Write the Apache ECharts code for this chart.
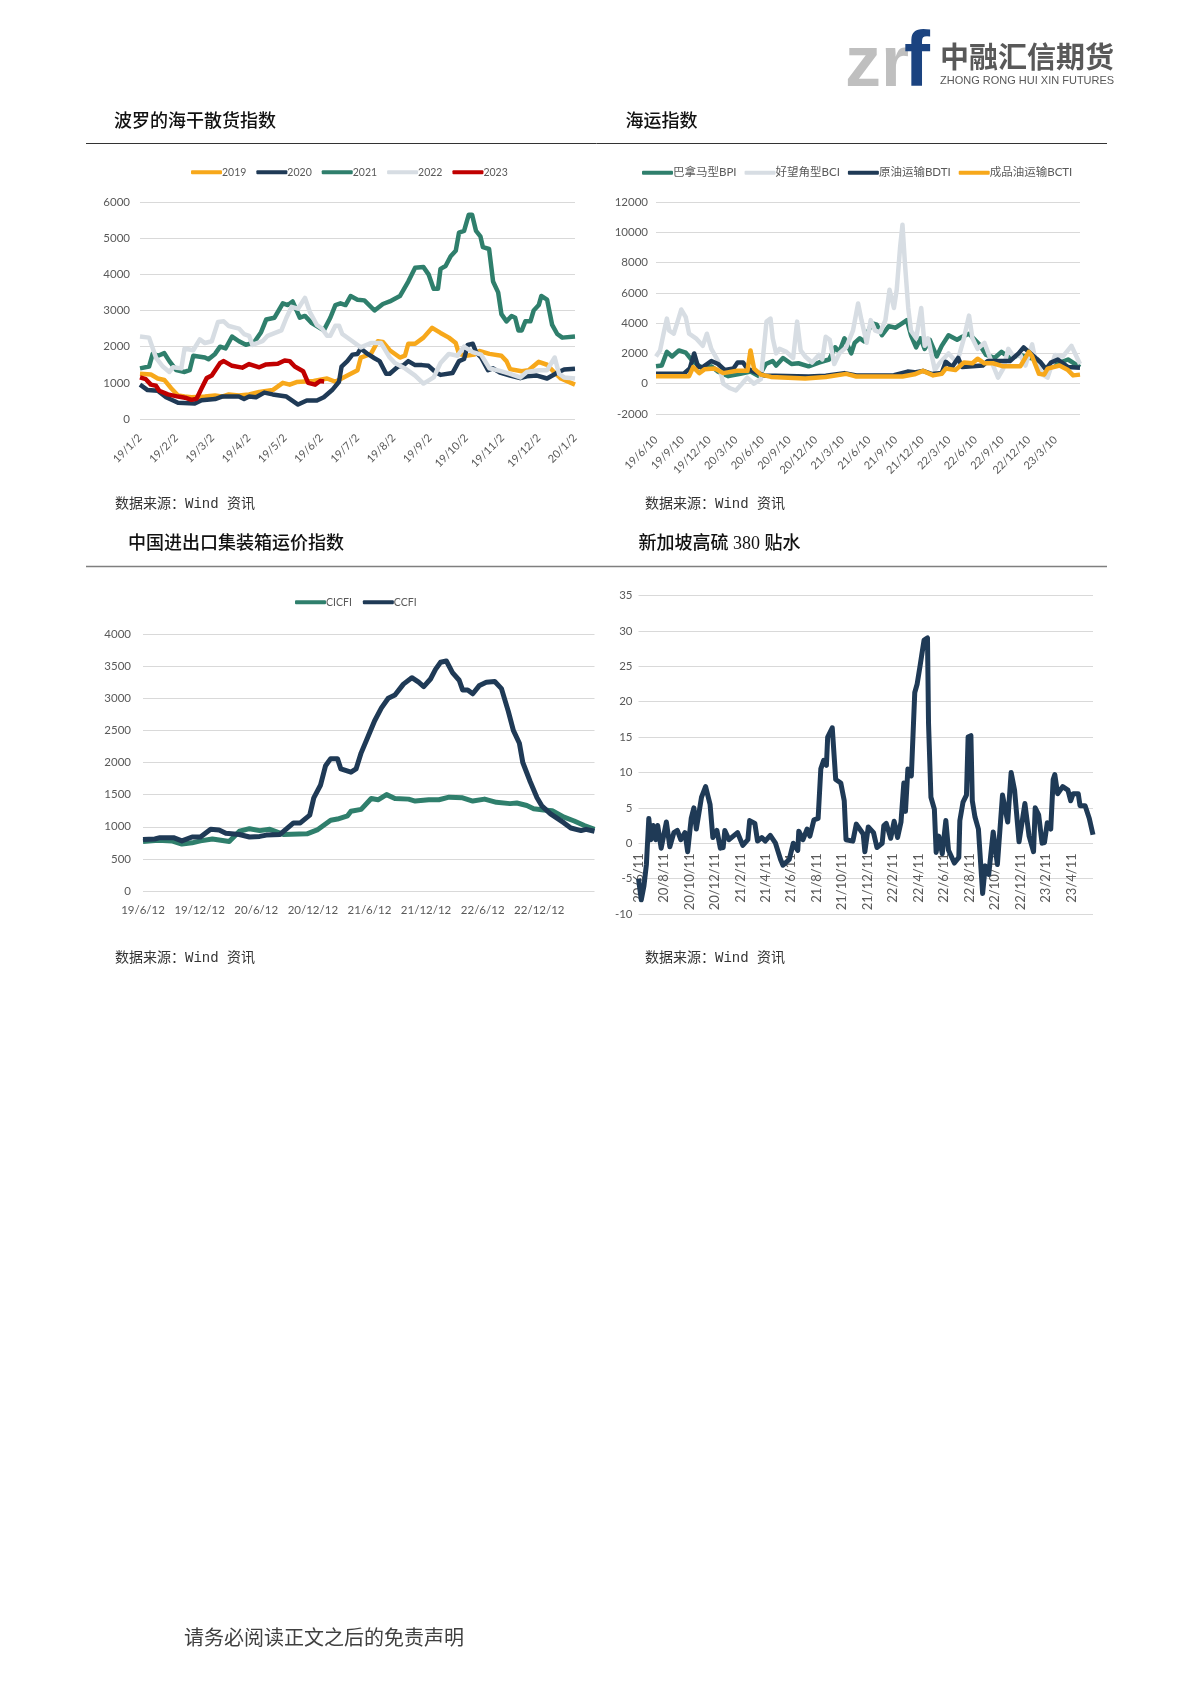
<!DOCTYPE html>
<html><head><meta charset="utf-8">
<style>html,body{margin:0;padding:0;background:#fff}#c{width:1190px;height:1683px}</style>
<script src="https://cdn.jsdelivr.net/npm/echarts@6/dist/echarts.min.js"></script>
</head><body><div id="c"></div>
<script>
// x = months elapsed since the first tick label of each chart
const bdiTicks=['19/1/2','19/2/2','19/3/2','19/4/2','19/5/2','19/6/2','19/7/2','19/8/2','19/9/2','19/10/2','19/11/2','19/12/2','20/1/2'];
const bdi2019=[[0,1250],[.3,1230],[.49,1120],[.67,1080],[.86,850],[1.05,650],[1.23,620],[1.42,600],[1.79,620],[2.07,650],[2.26,620],[2.45,680],[2.73,650],[3.01,680],[3.29,750],[3.66,800],[3.94,1000],[4.13,950],[4.32,1020],[4.79,1050],[5.16,1120],[5.39,1030],[5.72,1200],[6,1350],[6.09,1700],[6.37,1800],[6.56,2150],[6.7,2130],[6.89,1900],[7.17,1700],[7.31,1750],[7.4,2080],[7.59,2080],[7.82,2250],[8.06,2520],[8.29,2380],[8.52,2250],[8.71,2100],[8.8,1800],[8.99,1750],[9.22,1780],[9.36,1880],[9.64,1800],[9.97,1750],[10.11,1600],[10.21,1380],[10.53,1320],[10.72,1350],[11,1580],[11.23,1500],[11.42,1300],[11.61,1120],[12,950]];
const bdi2020=[[0,950],[.21,800],[.49,780],[.72,600],[1.05,450],[1.51,430],[1.7,520],[2.07,550],[2.26,620],[2.73,620],[2.87,550],[3.01,620],[3.2,600],[3.43,730],[3.66,680],[4.04,620],[4.36,400],[4.6,510],[4.88,510],[5.07,600],[5.3,800],[5.49,1030],[5.56,1450],[5.72,1600],[5.86,1780],[6,1800],[6.09,1950],[6.28,1800],[6.47,1680],[6.61,1600],[6.79,1250],[6.89,1250],[7.12,1450],[7.26,1480],[7.4,1600],[7.59,1490],[7.78,1490],[7.96,1470],[8.15,1300],[8.29,1220],[8.62,1270],[8.8,1600],[8.94,1660],[9.04,2050],[9.18,2080],[9.27,1850],[9.41,1700],[9.6,1350],[9.74,1400],[9.93,1280],[10.21,1200],[10.49,1130],[10.67,1180],[10.95,1200],[11.23,1120],[11.51,1280],[11.7,1370],[12,1390]];
const bdi2021=[[0,1400],[.25,1450],[.35,1800],[.5,1750],[.67,1820],[.81,1600],[1,1350],[1.23,1300],[1.37,1350],[1.47,1750],[1.79,1700],[1.89,1650],[2.07,1800],[2.21,2000],[2.36,1950],[2.54,2280],[2.73,2150],[2.92,2050],[3.15,2120],[3.34,2400],[3.48,2750],[3.71,2800],[3.94,3200],[4.08,3150],[4.21,3250],[4.41,2800],[4.55,2850],[4.74,2650],[5.07,2450],[5.25,2800],[5.39,3150],[5.53,3200],[5.67,3150],[5.81,3400],[6,3300],[6.19,3280],[6.47,3000],[6.7,3180],[6.89,3250],[7.17,3400],[7.4,3800],[7.59,4180],[7.82,4200],[7.96,4000],[8.1,3600],[8.22,3600],[8.29,4150],[8.43,4230],[8.57,4500],[8.71,4650],[8.8,5150],[8.94,5200],[9.07,5650],[9.16,5650],[9.27,5200],[9.39,5050],[9.46,4750],[9.63,4700],[9.74,3800],[9.88,3500],[9.97,2900],[10.11,2700],[10.25,2850],[10.35,2800],[10.44,2450],[10.53,2450],[10.63,2700],[10.77,2700],[10.86,3000],[11,3150],[11.07,3400],[11.23,3300],[11.37,2600],[11.51,2350],[11.65,2250],[12,2280]];
const bdi2022=[[0,2280],[.25,2250],[.44,1700],[.63,1450],[.81,1300],[.91,1430],[1.14,1400],[1.23,1950],[1.47,1900],[1.65,2200],[1.79,2100],[1.98,2150],[2.15,2680],[2.31,2700],[2.45,2570],[2.73,2500],[2.87,2350],[3.01,2300],[3.1,2050],[3.38,2150],[3.52,2300],[3.9,2450],[4.04,2800],[4.18,3100],[4.36,3050],[4.55,3350],[4.69,2950],[4.88,2600],[5.02,2500],[5.16,2300],[5.25,2300],[5.39,2580],[5.49,2580],[5.58,2350],[5.86,2150],[6.09,1980],[6.37,2100],[6.65,2100],[6.89,1700],[7.03,1550],[7.31,1400],[7.59,1200],[7.82,980],[8.1,1150],[8.29,1550],[8.52,1800],[8.76,1750],[8.94,2000],[9.18,1850],[9.41,1780],[9.64,1400],[9.93,1330],[10.21,1250],[10.49,1150],[10.67,1300],[11,1350],[11.23,1350],[11.44,1700],[11.56,1250],[11.7,1150],[12,1120]];
const bdi2023=[[0,1150],[.16,1100],[.3,950],[.44,920],[.53,780],[.77,680],[1.05,620],[1.28,580],[1.42,530],[1.56,560],[1.7,850],[1.84,1130],[1.98,1200],[2.21,1550],[2.31,1600],[2.54,1470],[2.82,1420],[3.01,1520],[3.29,1430],[3.48,1510],[3.8,1530],[3.99,1620],[4.13,1600],[4.27,1450],[4.5,1320],[4.64,1000],[4.83,950],[4.97,1050],[5.08,1040]];

const shipTicks=['19/6/10','19/9/10','19/12/10','20/3/10','20/6/10','20/9/10','20/12/10','21/3/10','21/6/10','21/9/10','21/12/10','22/3/10','22/6/10','22/9/10','22/12/10','23/3/10'];
const bpi=[[0,1150],[.65,1200],[1.23,2100],[1.81,1800],[2.58,2200],[3.35,2050],[4.12,1500],[5.27,1000],[6.23,1150],[7,800],[8.15,500],[9.5,650],[10.65,800],[11.62,500],[12.38,1300],[13.15,1500],[13.54,1200],[14.31,1700],[15.27,1300],[16.04,1350],[17.19,1150],[18.35,1400],[19.5,1600],[20.19,2400],[20.65,2100],[21.23,3000],[22,2000],[22.38,2700],[22.96,3000],[23.42,2800],[24.31,4000],[24.88,3900],[25.46,3200],[26.23,3800],[27,3700],[27.77,4000],[28.27,4200],[28.73,3200],[29.31,2400],[29.81,3000],[30.27,2300],[30.85,2900],[31.62,1800],[32.19,2500],[32.96,3200],[33.92,2900],[34.5,3100],[35.27,3300],[36.42,2600],[37.19,1900],[38.15,1700],[38.92,2100],[39.88,1700],[41.04,1900],[42.19,1700],[42.96,1600],[43.92,1000],[45.08,1300],[46.42,1600],[47.77,1100]];
const bci=[[0,1800],[.46,2200],[.85,3300],[1.23,4300],[1.5,3500],[2,3300],[2.38,4000],[2.85,4900],[3.35,4400],[3.73,3300],[4.5,3000],[5.27,2500],[5.73,3300],[6.23,2300],[7,1500],[7.58,0],[8.35,-300],[9,-450],[9.69,0],[10.27,400],[11.04,0],[11.81,300],[12.45,4100],[12.9,4300],[13.15,3000],[13.54,2000],[13.92,2300],[14.69,2100],[15.45,1700],[15.9,4100],[16.3,2200],[16.81,1800],[17.58,1400],[18.35,1900],[18.73,1600],[19.12,3100],[19.58,2900],[20.08,1300],[20.65,2000],[21.42,2400],[22.19,3500],[22.77,5300],[23.15,4200],[23.73,2700],[24.19,4200],[24.69,3500],[25.27,3400],[25.85,4200],[26.31,6200],[26.81,5000],[27.12,6200],[27.5,9000],[27.77,10500],[28.04,8000],[28.42,5000],[28.73,3500],[29.31,3000],[29.88,5000],[30.27,2500],[30.65,3000],[31.42,900],[32,1400],[32.96,2000],[33.92,1400],[34.69,3000],[35.27,4500],[35.65,3000],[36.23,2300],[37,2700],[37.77,1500],[38.54,400],[39.12,1000],[39.69,2300],[40.27,1800],[41.04,1900],[41.62,1200],[42.38,2600],[42.77,1500],[43.54,600],[44.12,400],[44.96,1900],[45.85,1800],[46.81,2500],[47.77,1300]];
const bdti=[[0,650],[3.1,650],[3.8,1000],[4.3,2000],[4.75,1100],[5.27,1100],[6.23,1500],[7,1300],[7.77,900],[8.73,1000],[9.19,1400],[9.81,1400],[10.27,1000],[11.04,800],[12.19,550],[17.19,470],[19.12,520],[21.23,700],[22.58,550],[26.81,560],[28.35,800],[29.12,750],[30.08,850],[31.04,650],[32.19,700],[32.65,1450],[33.35,1100],[34.04,1700],[34.5,1100],[36.81,1200],[37.38,1500],[39.88,1500],[40.85,2000],[41.42,2400],[42.19,2000],[43.35,1400],[43.92,950],[44.5,1400],[45.27,1600],[46.42,1100],[47.77,1050]];
const bcti=[[0,500],[3.73,500],[4.19,1100],[4.88,700],[5.46,950],[6.62,1000],[7.58,700],[9.12,850],[10.3,850],[10.65,2200],[11.05,1000],[11.81,600],[12.96,450],[16.81,350],[19.12,450],[21.42,650],[22.58,480],[27.77,480],[29.12,620],[30.08,850],[31.23,550],[32.19,650],[32.65,1000],[33.73,900],[34.69,1400],[35.65,1350],[36.23,1650],[37,1350],[37.96,1350],[39.12,1150],[41.04,1150],[42,2100],[42.38,1800],[43.15,650],[43.73,600],[44.12,1000],[45.46,1200],[46.42,900],[47,550],[47.77,600]];

const boxTicks=['19/6/12','19/12/12','20/6/12','20/12/12','21/6/12','21/12/12','22/6/12','22/12/12'];
const cicfi=[[0,770],[1.61,790],[3.05,780],[4.12,730],[5.2,750],[6.09,780],[7.35,810],[9.14,770],[10.22,930],[11.29,970],[12.37,940],[13.44,960],[14.87,880],[17.38,890],[18.46,950],[19.89,1100],[20.61,1120],[21.68,1170],[22.04,1240],[23.12,1270],[24.19,1440],[24.91,1420],[25.81,1500],[26.7,1440],[28.14,1430],[28.85,1400],[30.29,1420],[31.36,1420],[32.44,1460],[33.87,1450],[34.95,1400],[36.2,1430],[37.46,1380],[38.89,1360],[39.61,1370],[40.68,1330],[41.4,1280],[42.47,1260],[43.37,1250],[44.62,1150],[45.7,1090],[46.77,1020],[47.85,960]];
const ccfi=[[0,800],[1.25,810],[1.79,830],[3.23,830],[4.12,780],[5.2,840],[6.09,840],[7.17,960],[8.06,950],[8.78,900],[10.22,880],[11.29,840],[12.37,850],[13.08,870],[14.52,880],[15.95,1060],[16.67,1060],[17.67,1180],[18.1,1450],[18.82,1650],[19.35,1950],[19.89,2060],[20.61,2060],[20.97,1900],[22.04,1850],[22.58,1900],[23.12,2150],[23.84,2400],[24.55,2650],[25.27,2850],[25.99,3000],[26.7,3050],[27.6,3220],[28.49,3320],[29.21,3250],[29.75,3180],[30.47,3300],[31,3450],[31.54,3560],[32.15,3580],[32.8,3400],[33.51,3280],[33.87,3130],[34.41,3130],[34.95,3070],[35.66,3200],[36.38,3250],[37.28,3260],[37.99,3150],[38.71,2800],[39.25,2500],[39.89,2300],[40.25,2000],[41.04,1700],[41.76,1450],[42.29,1320],[43.19,1200],[43.91,1130],[44.62,1060],[45.34,980],[46.42,940],[46.95,960],[47.85,930]];

const sgTicks=['20/6/11','20/8/11','20/10/11','20/12/11','21/2/11','21/4/11','21/6/11','21/8/11','21/10/11','21/12/11','22/2/11','22/4/11','22/6/11','22/8/11','22/10/11','22/12/11','23/2/11','23/4/11'];
const sg380=[[0,-5],[.22,-8],[.43,-6],[.62,-3],[.81,3.5],[.97,.5],[1.16,2.5],[1.35,.5],[1.51,2.5],[1.78,-.7],[2.19,3],[2.46,-.5],[2.78,1.5],[3.05,1.8],[3.32,.5],[3.65,1.5],[3.86,-1.2],[4.14,3.5],[4.35,5],[4.54,2],[4.95,6.5],[5.27,8],[5.62,5.5],[5.84,.8],[6.16,1.8],[6.43,-.7],[6.65,-.6],[6.78,1.8],[7.11,.5],[7.78,1.5],[8.19,-.3],[8.59,.5],[8.73,3.2],[9.14,2.8],[9.35,.3],[9.68,.8],[9.95,.3],[10.35,1.1],[10.76,0],[11.16,-2.3],[11.35,-3.1],[11.84,-2.3],[12.16,0],[12.51,-1],[12.59,1.7],[12.92,.5],[13.24,2],[13.46,1],[13.78,3.3],[14.11,3.5],[14.32,10.5],[14.54,11.7],[14.76,11],[14.86,15],[15.22,16.3],[15.49,9],[15.89,8.5],[16.16,6],[16.3,.5],[16.84,.3],[17.11,2.7],[17.65,1.3],[17.78,-1.2],[18.05,2.3],[18.46,1.5],[18.73,-.6],[19.14,0],[19.27,2.5],[19.46,2.8],[19.81,.7],[20.08,3.1],[20.35,.8],[20.62,3],[20.84,8.5],[20.97,4.5],[21.16,10.5],[21.43,9.5],[21.7,21.3],[21.89,22.5],[22.11,25],[22.24,26.5],[22.43,28.7],[22.7,29],[22.78,17],[22.97,6.5],[23.24,4.8],[23.38,-1.3],[23.59,1],[23.86,-1.5],[24.14,3.2],[24.35,-1],[24.81,-2.8],[25.16,-2],[25.24,3.2],[25.49,5.8],[25.76,6.8],[25.89,15],[26.11,15.2],[26.22,6],[26.43,3.7],[26.7,2],[27.03,-7.1],[27.24,-3.2],[27.51,-4.4],[27.86,1.6],[28.19,-3],[28.59,6.8],[29,3],[29.27,10],[29.54,7.5],[29.89,.2],[30.35,5.6],[30.68,1],[31.03,-1.2],[31.16,5],[31.43,4],[31.7,0],[31.89,.1],[32.11,2.9],[32.38,2],[32.57,9],[32.7,9.7],[32.92,7],[33.32,8],[33.73,7.5],[33.95,6],[34.14,7],[34.54,7],[34.68,5.3],[35.08,5.3],[35.41,3.5],[35.7,1.2]];

const ORANGE='#F7A81B',NAVY='#1F3A56',GREEN='#2F7F6C',GREY='#D7DDE3',RED='#C00000';
const TXT='#595959',LINE='#D9D9D9',AXF='Lato';
const SRC='"Liberation Mono","Noto Sans CJK SC"',TTL='"Liberation Serif","Noto Sans CJK SC"';

const chart=echarts.init(document.getElementById('c'),null,{renderer:'canvas'});
function line(name,data,color,i,lw){return{type:'line',name,data,xAxisIndex:i,yAxisIndex:i,showSymbol:false,symbol:'none',smooth:false,silent:true,
  lineStyle:{color,width:lw||4.5,join:'round'},itemStyle:{color},animation:false,clip:false};}
function xAx(i,max,step,ticks,rot,margin,size,offset){return{type:'value',gridIndex:i,min:0,max,interval:step,offset:offset||0,splitLine:{show:false},axisTick:{show:false},
  axisLine:{show:false,onZero:false},
  axisLabel:{show:true,color:TXT,fontSize:size,fontFamily:AXF,rotate:rot,margin,showMinLabel:true,showMaxLabel:true,hideOverlap:false,
    formatter:v=>{const k=v/step;return Math.abs(k-Math.round(k))<1e-6?(ticks[Math.round(k)]||''):'';}}};}
function yAx(i,min,max,step,margin){return{type:'value',gridIndex:i,min,max,interval:step,axisLine:{show:false},axisTick:{show:false},
  axisLabel:{color:TXT,fontSize:11.5,fontFamily:AXF,margin,formatter:v=>String(v)},splitLine:{show:true,lineStyle:{color:LINE,width:1}}};}
function lg(names,left,top,gap,size){return{show:true,data:names,left,top,orient:'horizontal',icon:'roundRect',itemWidth:31,itemHeight:4,itemGap:gap,
  textStyle:{color:TXT,fontSize:size,fontFamily:'Lato,"Noto Sans CJK SC"',padding:[0,0,0,-5]}};}
function tx(x,y,text,font,size,color,weight){return{type:'text',x,y,silent:true,style:{text,fill:color,font:(weight||'normal')+' '+size+'px '+font,textVerticalAlign:'middle',textBaseline:'middle'}};}
function rule(y,w,c){return{type:'line',silent:true,shape:{x1:86,y1:y,x2:1107,y2:y},style:{stroke:c,lineWidth:w}};}

const H4=318.5;
chart.setOption({
  animation:false,backgroundColor:'#fff',
  grid:[{left:140,top:202,width:435,height:217},
        {left:656,top:202,width:424,height:212},
        {left:143,top:634,width:451.5,height:257},
        {left:638.5,top:595.5,width:454.5,height:H4}],
  xAxis:[xAx(0,12,1,bdiTicks,45,17,11),xAx(1,47.77,3,shipTicks,45,24,11),xAx(2,47.85,6,boxTicks,0,13,11.5),xAx(3,35.7,2,sgTicks,90,10,13,-H4*10/45)],
  yAxis:[yAx(0,0,6000,1000,10),yAx(1,-2000,12000,2000,8),yAx(2,0,4000,500,12),yAx(3,-10,35,5,6)],
  legend:[lg(['2019','2020','2021','2022','2023'],186,162,10,10.5),
          lg(['巴拿马型BPI','好望角型BCI','原油运输BDTI','成品油运输BCTI'],637,162,8,11.5),
          lg(['CICFI','CCFI'],290,592,11,10.5)],
  series:[line('2019',bdi2019,ORANGE,0),line('2020',bdi2020,NAVY,0),line('2021',bdi2021,GREEN,0),line('2022',bdi2022,GREY,0),line('2023',bdi2023,RED,0),
    line('巴拿马型BPI',bpi,GREEN,1),line('好望角型BCI',bci,GREY,1),line('原油运输BDTI',bdti,NAVY,1),line('成品油运输BCTI',bcti,ORANGE,1),
    line('CICFI',cicfi,GREEN,2,5),line('CCFI',ccfi,NAVY,2,5),
    line('新加坡高硫380贴水',sg380,NAVY,3,5)],
  graphic:[
    rule(143.5,1,'#333333'),rule(566.5,1.5,'#7F7F7F'),
    tx(114,122,'波罗的海干散货指数',TTL,18,'#111','500'),
    tx(625.5,122,'海运指数',TTL,18,'#111','500'),
    tx(128,544,'中国进出口集装箱运价指数',TTL,18,'#111','500'),
    tx(638.5,544,'新加坡高硫 380 贴水',TTL,18,'#111','500'),
    tx(115,504.5,'数据来源：Wind 资讯',SRC,14,'#333'),
    tx(645,504.5,'数据来源：Wind 资讯',SRC,14,'#333'),
    tx(115,958,'数据来源：Wind 资讯',SRC,14,'#333'),
    tx(645,958,'数据来源：Wind 资讯',SRC,14,'#333'),
    tx(184,1640,'请务必阅读正文之后的免责声明',TTL,20,'#404040'),
    tx(845,66,'zr','"Liberation Sans"',72,'#BFBFBF','bold'),
    tx(904,64.5,'f','"Liberation Sans"',78,'#1B4380','bold'),
    tx(940,57,'中融汇信期货','"Noto Sans CJK SC"',29,'#595959','bold'),
    tx(940,80.5,'ZHONG RONG HUI XIN FUTURES','"Liberation Sans"',11,'#595959')
  ]
});
</script></body></html>
